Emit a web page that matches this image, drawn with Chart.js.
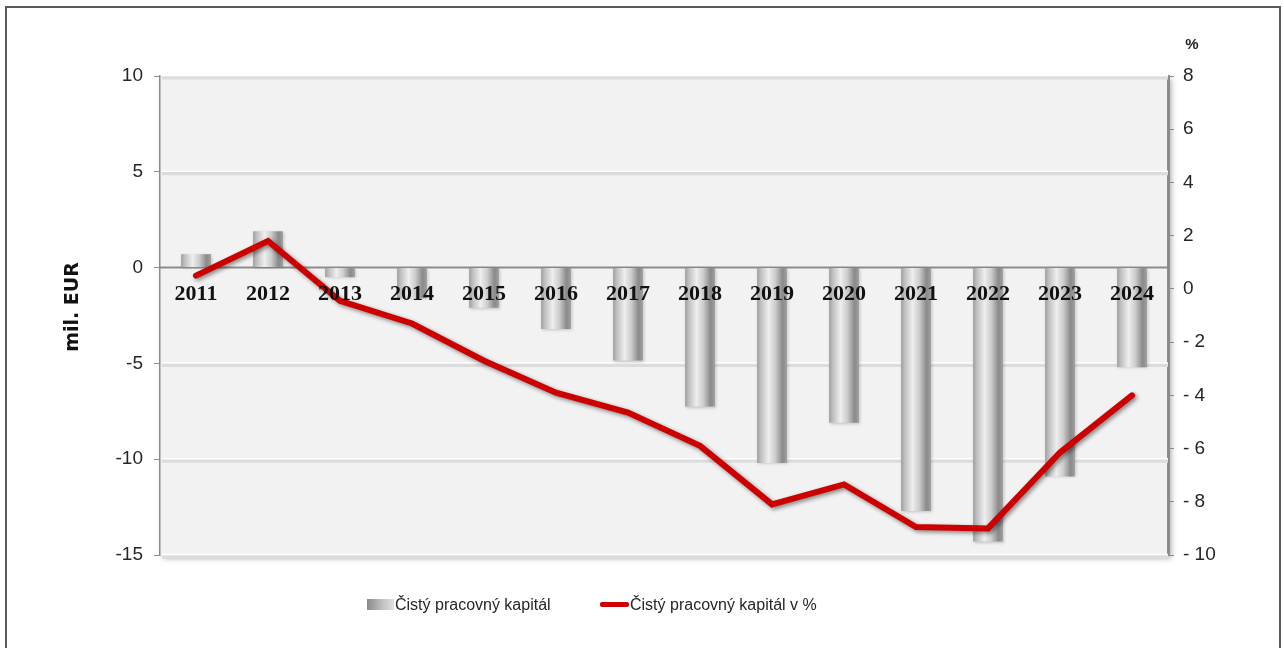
<!DOCTYPE html>
<html><head><meta charset="utf-8">
<script src="https://cdn.jsdelivr.net/npm/chart.js@4.4.1/dist/chart.umd.min.js"></script>
<style>
html,body{margin:0;padding:0;background:#fff;}
#wrap{position:relative;width:1284px;height:648px;overflow:hidden;background:#fff;}
#frame{position:absolute;left:5px;top:6px;width:1276px;height:700px;border:2px solid #5a5a5a;box-sizing:border-box;}
#c{position:absolute;left:0;top:0;}
.leg{position:absolute;top:595px;font:16px "Liberation Sans",Arial,sans-serif;color:#262626;white-space:nowrap;line-height:20px;}
.leg i{display:inline-block;vertical-align:middle;margin-right:1px;position:relative;top:-1px;}
</style></head><body>
<div id="wrap"><div id="frame"></div><canvas id="c" width="1284" height="648"></canvas>
<div id="leg0" class="leg" style="left:367px"><i style="width:27px;height:11px;background:linear-gradient(90deg,#8a8a8a,#c4c4c4 60%,#e0e0e0);"></i><span></span></div>
<div id="leg1" class="leg" style="left:600px"><i style="width:29px;height:5px;background:#cc0000;border-radius:2px;"></i><span></span></div>
</div>
<script>
const years = ['2011','2012','2013','2014','2015','2016','2017','2018','2019','2020','2021','2022','2023','2024'];
const capitalMilEur = [0.7, 1.9, -0.5, -1.6, -2.1, -3.2, -4.85, -7.25, -10.2, -8.1, -12.7, -14.3, -10.9, -5.2];
const capitalPct = [0.5, 1.8, -0.45, -1.3, -2.7, -3.9, -4.65, -5.9, -8.1, -7.35, -8.95, -9.0, -6.15, -4.0];
const leftTickValues = [10, 5, 0, -5, -10, -15];
const leftTickLabels = ['10', '5', '0', '-5', '-10', '-15'];
const rightTickValues = [8, 6, 4, 2, 0, -2, -4, -6, -8, -10];
const rightTickLabels = ['8', '6', '4', '2', '0', '- 2', '- 4', '- 6', '- 8', '- 10'];
const seriesNames = ['Čistý pracovný kapitál', 'Čistý pracovný kapitál v %'];
const leftTitle = 'mil. EUR';
const rightTitle = '%';

function barGradient(ctx) {
  const chart = ctx.chart;
  const xs = chart.scales.x;
  if (!xs || !chart.chartArea || ctx.dataIndex === undefined) return '#bdbdbd';
  const cx = xs.getPixelForValue(ctx.dataIndex);
  const w = (xs.width / years.length) * 0.9 * 0.46;
  const g = chart.ctx.createLinearGradient(cx - w / 2, 0, cx + w / 2, 0);
  g.addColorStop(0, '#a0a0a0');
  g.addColorStop(0.15, '#c4c4c4');
  g.addColorStop(0.38, '#eeeeee');
  g.addColorStop(0.6, '#cfcfcf');
  g.addColorStop(0.85, '#8a8a8a');
  g.addColorStop(1, '#9e9e9e');
  return g;
}

const decor = {
  id: 'decor',
  beforeDraw(chart) {
    const {ctx, chartArea: a} = chart;
    ctx.save();
    ctx.shadowColor = 'rgba(0,0,0,0.35)';
    ctx.shadowBlur = 6;
    ctx.shadowOffsetX = 3;
    ctx.shadowOffsetY = 3;
    ctx.fillStyle = '#f2f2f2';
    ctx.fillRect(a.left, a.top, a.right - a.left, a.bottom - a.top);
    ctx.restore();
  },
  beforeDatasetsDraw(chart) {
    const {ctx, chartArea: a, scales} = chart;
    const y = scales.y;
    ctx.save();
    leftTickValues.forEach(v => {
      const py = y.getPixelForValue(v);
      if (v === 0) return;
      ctx.strokeStyle = '#dcdcdc';
      ctx.lineWidth = 4;
      ctx.beginPath(); ctx.moveTo(a.left + 2, py + 1.5); ctx.lineTo(a.right, py + 1.5); ctx.stroke();
      ctx.strokeStyle = '#ffffff';
      ctx.lineWidth = 1.5;
      ctx.beginPath(); ctx.moveTo(a.left + 2, py - 0.5); ctx.lineTo(a.right, py - 0.5); ctx.stroke();
    });
    const z = y.getPixelForValue(0);
    ctx.strokeStyle = '#8c8c8c';
    ctx.lineWidth = 2;
    ctx.beginPath(); ctx.moveTo(a.left, z); ctx.lineTo(a.right, z); ctx.stroke();
    ctx.restore();
  },
  beforeDatasetDraw(chart, args) {
    const ctx = chart.ctx;
    ctx.save();
    if (args.index === 0) {
      ctx.shadowColor = 'rgba(0,0,0,0.45)';
      ctx.shadowBlur = 4;
      ctx.shadowOffsetX = 2;
      ctx.shadowOffsetY = 2;
    } else {
      ctx.shadowColor = 'rgba(0,0,0,0.2)';
      ctx.shadowBlur = 3;
      ctx.shadowOffsetX = 1;
      ctx.shadowOffsetY = 1;
    }
  },
  afterDatasetDraw(chart) {
    chart.ctx.restore();
  },
  afterDraw(chart) {
    const {ctx, scales} = chart;
    const x = scales.x, y = scales.y;
    ctx.save();
    ctx.fillStyle = '#111';
    ctx.font = 'bold 22px "Liberation Serif", "Times New Roman", serif';
    ctx.textAlign = 'center';
    ctx.textBaseline = 'middle';
    const ly = y.getPixelForValue(0) + 27;
    years.forEach((yr, i) => ctx.fillText(yr, x.getPixelForValue(i), ly));
    ctx.fillStyle = '#111';
    ctx.font = 'bold 19px "DejaVu Sans", sans-serif';
    ctx.translate(73, 307);
    ctx.rotate(-Math.PI / 2);
    ctx.fillText(leftTitle, 0, 0);
    ctx.restore();
    ctx.save();
    ctx.fillStyle = '#222';
    ctx.font = 'bold 15px "Liberation Sans", Arial, sans-serif';
    ctx.textAlign = 'center';
    ctx.textBaseline = 'middle';
    ctx.fillText(rightTitle, 1192, 45);
    ctx.restore();
  }
};

const chart = new Chart(document.getElementById('c'), {
  data: {
    labels: years,
    datasets: [
      {
        type: 'line', label: seriesNames[1], data: capitalPct, yAxisID: 'y1',
        borderColor: '#cc0000', borderWidth: 6, pointRadius: 0, tension: 0,
        borderCapStyle: 'round', borderJoinStyle: 'miter', order: 0
      },
      {
        type: 'bar', label: seriesNames[0], data: capitalMilEur, yAxisID: 'y',
        backgroundColor: barGradient, borderWidth: 0,
        barPercentage: 0.9, categoryPercentage: 0.46, order: 1
      }
    ]
  },
  options: {
    responsive: false,
    animation: false,
    devicePixelRatio: 1,
    layout: { padding: { top: 76, bottom: 93, left: 0, right: 0 } },
    plugins: { legend: { display: false }, tooltip: { enabled: false } },
    scales: {
      x: { type: 'category', display: false, offset: true },
      y: {
        position: 'left', min: -15, max: 10,
        afterBuildTicks: s => { s.ticks = leftTickValues.map(v => ({ value: v })); },
        afterFit: s => { s.width = 160; },
        ticks: {
          callback: v => leftTickLabels[leftTickValues.indexOf(v)],
          color: '#262626', padding: 11,
          font: { family: '"Liberation Sans", Arial, sans-serif', size: 19 }
        },
        grid: { drawOnChartArea: false, drawTicks: true, tickLength: 6, tickColor: '#8c8c8c' },
        border: { display: true, color: '#8c8c8c', width: 1.5 }
      },
      y1: {
        position: 'right', min: -10, max: 8,
        afterBuildTicks: s => { s.ticks = rightTickValues.map(v => ({ value: v })); },
        afterFit: s => { s.width = 116; },
        ticks: {
          callback: v => rightTickLabels[rightTickValues.indexOf(v)],
          color: '#262626', padding: 9,
          font: { family: '"Liberation Sans", Arial, sans-serif', size: 19 }
        },
        grid: { drawOnChartArea: false, drawTicks: true, tickLength: 6, tickColor: '#8c8c8c' },
        border: { display: true, color: '#8c8c8c', width: 3 }
      }
    }
  },
  plugins: [decor]
});

document.querySelector('#leg0 span').textContent = chart.data.datasets[1].label;
document.querySelector('#leg1 span').textContent = chart.data.datasets[0].label;
</script>
</body></html>
